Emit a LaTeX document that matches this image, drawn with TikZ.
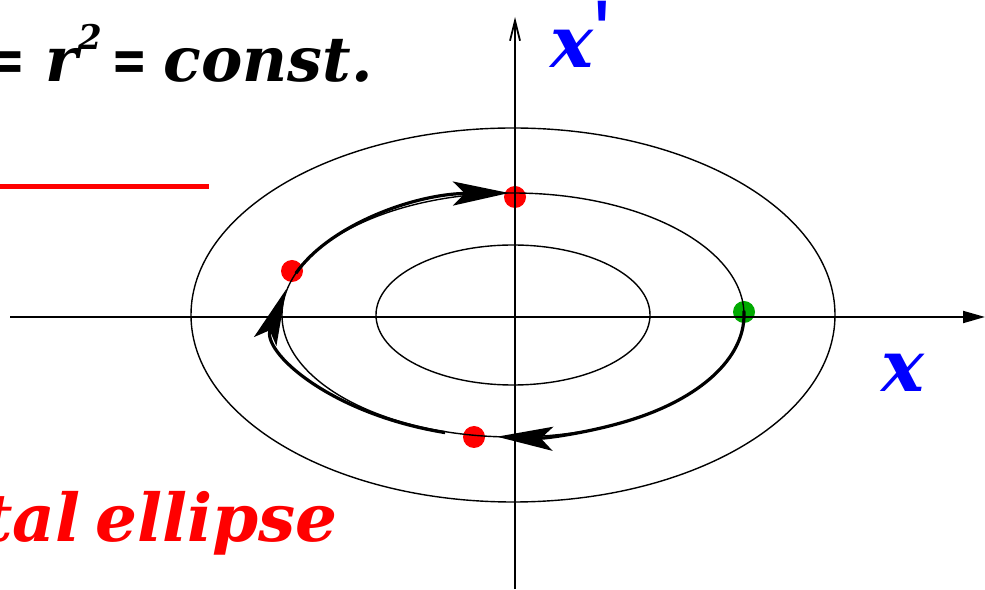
\documentclass[tikz,border=0pt]{standalone}
\usepackage{fontspec}
\setmainfont{DejaVu Serif}
\newfontfamily\tickfont{Liberation Sans}
\usetikzlibrary{arrows.meta, calc}
\definecolor{dotgreen}{RGB}{0,170,0}

\begin{document}
\begin{tikzpicture}[x=0.5pt, y=0.5pt,
  orbit/.style={line width=0.7pt},
  axis/.style={line width=0.9pt},
  traj/.style={line width=1.6pt, -{Stealth[length=28pt, width=12pt, inset=6pt]}},
  phasept/.style={circle, fill=#1, inner sep=0pt, minimum size=11pt},
  lbl/.style={inner sep=0pt, font=\bfseries\itshape\fontsize{36}{36}\selectfont},
]
  \clip (0,0) rectangle (985,589);
  \coordinate (O) at (513,274);

  % phase points
  \node[phasept=red]       (ptTop)    at (515,392) {};
  \node[phasept=red]       (ptLeft)   at (292,318) {};
  \node[phasept=red]       (ptBottom) at (474,152) {};
  \node[phasept=dotgreen]  (ptStart)  at (744,277) {};

  % axes
  \coordinate (xl) at (10,272);
  \coordinate (xr) at (985,272);
  \coordinate (yb) at (515,0);
  \coordinate (yt) at (515,572);
  \draw[axis, -{Triangle[length=11pt, width=6pt]}] (xl) -- (xr);
  \draw[axis, -{Straight Barb[length=10pt, width=5pt]}] (yb) -- (yt);

  % phase ellipses
  \draw[orbit] (O) ellipse[x radius=322, y radius=187];
  \draw[orbit] (O) ellipse[x radius=231, y radius=122];
  \draw[orbit] (O) ellipse[x radius=137, y radius=70];

  % trajectory
  \draw[traj] ($(O)+(2:231 and 122)$) arc[start angle=2, end angle=-94, x radius=231, y radius=122];
  \draw[traj] ($(O)+(-107:232 and 123)$) arc[start angle=-107, end angle=-192, x radius=232, y radius=123];
  \draw[traj] ($(O)+(160:231 and 122)$) arc[start angle=160, end angle=91, x radius=231, y radius=122];

  \draw[red, line width=2.5pt] (0,402) -- (209,402);

  \node[lbl, anchor=base east, font=\bfseries\itshape\fontsize{31}{31}\selectfont] (energy) at (373,507)
    {=\hspace{0.3em}r\raisebox{16pt}{\fontsize{17}{17}\selectfont 2}\hspace{0.15em}\scalebox{0.7}[1]{=}\hspace{0.25em}const.};
  \node[lbl, red, anchor=base east, font=\bfseries\itshape\fontsize{33}{33}\selectfont] (orbitname) at (338,47)
    {tal\hspace{0.22em}ellipse};
  \node[lbl, blue] (xlab) at (903,216) {x};
  \node[lbl, blue, anchor=base west] (xplab) at (550,521)
    {x{\tickfont\mdseries\upshape\fontsize{46}{46}\selectfont\raisebox{1.5pt}{\textquotesingle}}};
\end{tikzpicture}
\end{document}
